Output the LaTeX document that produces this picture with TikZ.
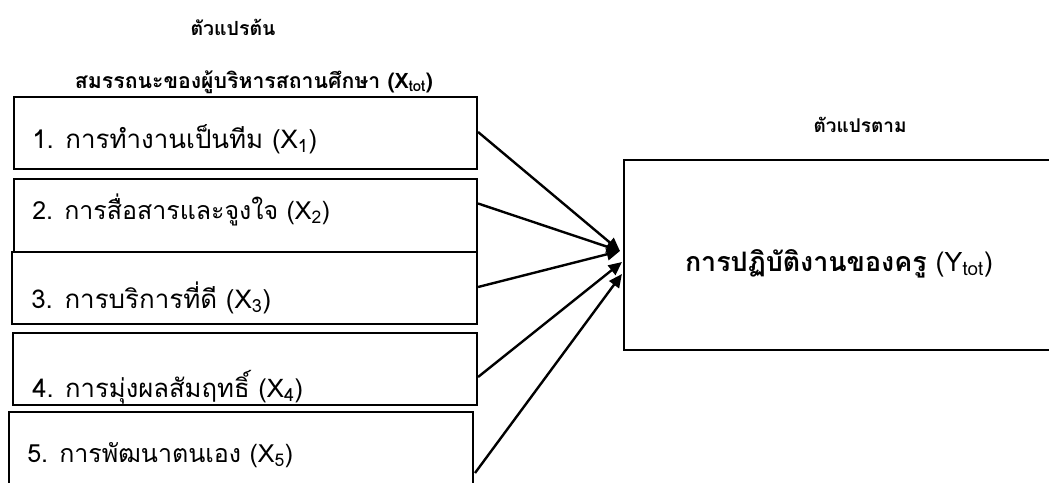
\documentclass[tikz,border=0pt]{standalone}
\usepackage{fontspec}
\usepackage{graphicx}
\setmainfont[Script=Thai]{Loma}
\usetikzlibrary{arrows.meta,calc}
\newcommand{\fitw}[2]{\resizebox{\dimexpr #1pt*3/4\relax}{!}{#2}}
\begin{document}
\begin{tikzpicture}[x=0.75pt,y=-0.75pt,
  boxstyle/.style={draw=black,line width=1.6pt,rectangle,inner sep=0pt},
  boxtext/.style={anchor=base west,inner sep=0pt,font=\fontsize{19}{22}\selectfont},
  headtext/.style={anchor=base,inner sep=0pt,font=\fontsize{16.5}{20}\selectfont\bfseries},
  arr/.style={line width=1.8pt,-{Triangle[length=10pt,width=9pt]}}]
\useasboundingbox (0,0) rectangle (1049,482);
\clip (0,0) rectangle (1049,482);
\fill[white] (0,0) rectangle (1049,482);
% headers
\node[headtext] (h1) at (233,35) {\fitw{85}{ตัวแปรต้น}};
\node[headtext] (h2) at (254,88) {\fitw{358}{สมรรถนะของผู้บริหารสถานศึกษา (X\textsubscript{tot})}};
\node[headtext] (h3) at (860,132) {\fitw{93}{ตัวแปรตาม}};
% left boxes
\node[boxstyle,minimum width=463*0.75pt,minimum height=72*0.75pt] (b1) at (245.5,133) {};
\node[boxstyle,minimum width=463*0.75pt,minimum height=73*0.75pt] (b2) at (245.5,215.5) {};
\node[boxstyle,minimum width=465*0.75pt,minimum height=72*0.75pt] (b3) at (244.5,288) {};
\node[boxstyle,minimum width=464*0.75pt,minimum height=72*0.75pt] (b4) at (245,369) {};
\node[boxstyle,minimum width=464*0.75pt,minimum height=90*0.75pt] (b5) at (241,457) {};
\node[boxtext] (t1) at (32,148) {\fitw{285}{1. การทำงานเป็นทีม (X\textsubscript{1})}};
\node[boxtext] (t2) at (32,219) {\fitw{298}{2. การสื่อสารและจูงใจ (X\textsubscript{2})}};
\node[boxtext] (t3) at (31,308) {\fitw{240}{3. การบริการที่ดี (X\textsubscript{3})}};
\node[boxtext] (t4) at (32,397) {\fitw{271}{4. การมุ่งผลสัมฤทธิ์ (X\textsubscript{4})}};
\node[boxtext] (t5) at (27,462) {\fitw{266}{5. การพัฒนาตนเอง (X\textsubscript{5})}};
% right box
\node[boxstyle,minimum width=437*0.75pt,minimum height=190*0.75pt] (y) at (842.5,255) {};
\node[anchor=base,inner sep=0pt,font=\fontsize{20}{24}\selectfont] (yt) at (839,271) {\fitw{308}{\textbf{การปฏิบัติงานของครู} (Y\textsubscript{tot})}};
% connector end points
\coordinate (s1) at ($(b1.east)+(0,-1)$);
\coordinate (s2) at ($(b2.east)+(0,-12)$);
\coordinate (s3) at ($(b3.east)+(0,-1)$);
\coordinate (s4) at ($(b4.east)+(0,8)$);
\coordinate (s5) at (475,473);
\coordinate (e1) at ($(y.west)+(-3,-4)$);
\coordinate (e4) at ($(y.west)+(-1,7)$);
\coordinate (e5) at ($(y.west)+(-1,19)$);
\draw[arr] (s1) -- (e1);
\draw[arr] (s2) -- (e1);
\draw[arr] (s3) -- (e1);
\draw[arr] (s4) -- (e4);
\draw[arr] (s5) -- (e5);
\end{tikzpicture}
\end{document}
